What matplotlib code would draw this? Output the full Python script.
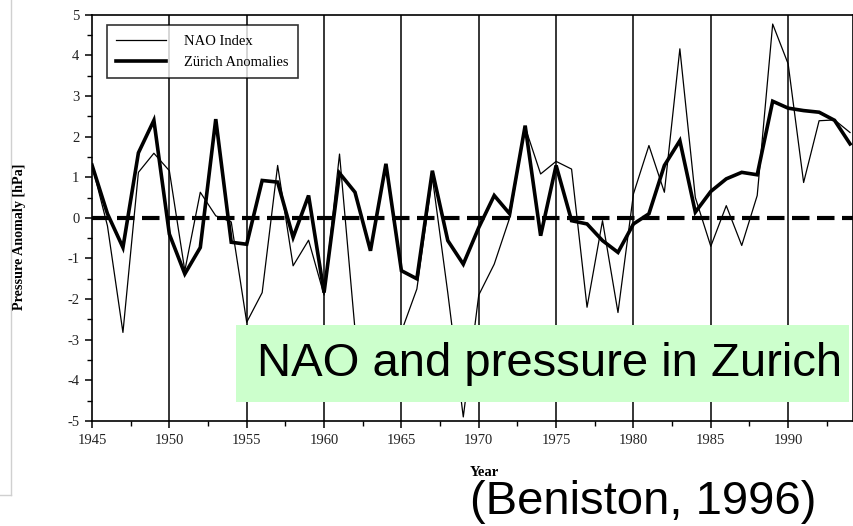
import matplotlib
matplotlib.use("Agg")
import matplotlib.pyplot as plt
from matplotlib.patches import Rectangle
from matplotlib.lines import Line2D
from matplotlib.ticker import MultipleLocator
import numpy as np

plt.rcParams["axes.unicode_minus"] = False

years = list(range(1945, 1995))
nao_index = [1.3, -0.2, -2.82, 1.12, 1.59, 1.16, -1.3, 0.63, 0.05, -0.1,
             -2.57, -1.84, 1.29, -1.18, -0.55, -1.9, 1.57, -2.75, -3.6, -3.1,
             -2.8, -1.75, 1.0, -1.85, -4.9, -1.9, -1.14, 0.0, 2.23, 1.08,
             1.39, 1.2, -2.2, -0.07, -2.33, 0.59, 1.78, 0.63, 4.16, 0.5,
             -0.7, 0.3, -0.68, 0.55, 4.77, 3.79, 0.87, 2.39, 2.41, 2.1]
zurich = [1.3, 0.1, -0.73, 1.6, 2.4, -0.4, -1.38, -0.73, 2.43, -0.6,
          -0.65, 0.92, 0.88, -0.48, 0.55, -1.84, 1.1, 0.63, -0.81, 1.33,
          -1.3, -1.5, 1.16, -0.56, -1.14, -0.24, 0.55, 0.1, 2.27, -0.44,
          1.29, -0.07, -0.15, -0.56, -0.85, -0.15, 0.1, 1.29, 1.9, 0.14,
          0.65, 0.96, 1.12, 1.06, 2.87, 2.7, 2.64, 2.6, 2.4, 1.82]
x_ticks = [1945, 1950, 1955, 1960, 1965, 1970, 1975, 1980, 1985, 1990]
y_ticks = [-5, -4, -3, -2, -1, 0, 1, 2, 3, 4, 5]
series_labels = ["NAO Index", "Zürich Anomalies"]

W, H = 854, 526
fig = plt.figure(figsize=(W / 100, H / 100), dpi=100)
fig.patch.set_facecolor("white")

ax_l, ax_r, ax_t, ax_b = 92, 853, 14.7, 421
ax = fig.add_axes([ax_l / W, 1 - ax_b / H, (ax_r - ax_l) / W, (ax_b - ax_t) / H])

serif = ["Liberation Serif", "DejaVu Serif"]

# vertical reference lines
for xv in x_ticks[1:]:
    ax.axvline(xv, color="black", lw=1.1, zorder=1)

ax.axhline(0, color="black", lw=3.0, dashes=(4.2, 1.8), zorder=2)
l1, = ax.plot(years, nao_index, color="black", lw=0.9, zorder=3)
l2, = ax.plot(years, zurich, color="black", lw=2.6, zorder=4, solid_joinstyle="miter")

ax.set_xlim(1945, 1945 + (ax_r - ax_l) / 15.47)
ax.set_ylim(-5, 5)
ax.set_xticks(x_ticks)
ax.set_yticks(y_ticks)
ax.xaxis.set_minor_locator(MultipleLocator(2.5))
ax.yaxis.set_minor_locator(MultipleLocator(0.5))
ax.tick_params(axis="both", which="major", direction="out", length=5, width=1.1,
               labelsize=10.5, colors="black", pad=4)
ax.tick_params(axis="both", which="minor", direction="out", length=3.5, width=1.0)
for lab in ax.get_xticklabels() + ax.get_yticklabels():
    lab.set_family(serif)
    lab.set_color("#222222")
for sp in ax.spines.values():
    sp.set_linewidth(1.2)

leg = ax.legend([l1, l2], series_labels, loc="upper left",
                bbox_to_anchor=((107 - ax_l) / (ax_r - ax_l), (ax_b - 25) / (ax_b - ax_t)),
                borderaxespad=0, frameon=True, fancybox=False, handlelength=3.4,
                handletextpad=1.2, borderpad=0.65, labelspacing=0.55,
                prop={"family": serif, "size": 10.5})
leg.get_frame().set_edgecolor("black")
leg.get_frame().set_linewidth(1.2)
leg.set_zorder(6)

fig.text(20 / W, 1 - 237 / H, "Pressure Anomaly [hPa]", rotation=90, ha="center",
         va="center", family=serif, weight="bold", fontsize=10.2)
fig.text(484 / W, 1 - 473 / H, "Year", ha="center", va="center", family=serif,
         weight="bold", fontsize=10.5)

# green caption box
fig.patches.append(Rectangle((236 / W, 1 - 402 / H), (849 - 236) / W, (402 - 325) / H,
                             transform=fig.transFigure, facecolor="#ccffcc",
                             edgecolor="none", zorder=10))
fig.text(257 / W, 1 - 364 / H, "NAO and pressure in Zurich", ha="left", va="center",
         family=["Liberation Sans", "DejaVu Sans"], fontsize=34, color="black", zorder=11)
fig.text(470 / W, 1 - 514 / H, "(Beniston, 1996)", ha="left", va="baseline",
         family=["Liberation Sans", "DejaVu Sans"], fontsize=34, color="black")

# faint frame of neighbouring panel at left
fig.add_artist(Line2D([11 / W, 11 / W], [1, 1 - 495 / H], transform=fig.transFigure,
                      color="#d0d0d0", lw=1))
fig.add_artist(Line2D([0, 11 / W], [1 - 495 / H, 1 - 495 / H], transform=fig.transFigure,
                      color="#d0d0d0", lw=1))

fig.savefig("out.png", dpi=100)
